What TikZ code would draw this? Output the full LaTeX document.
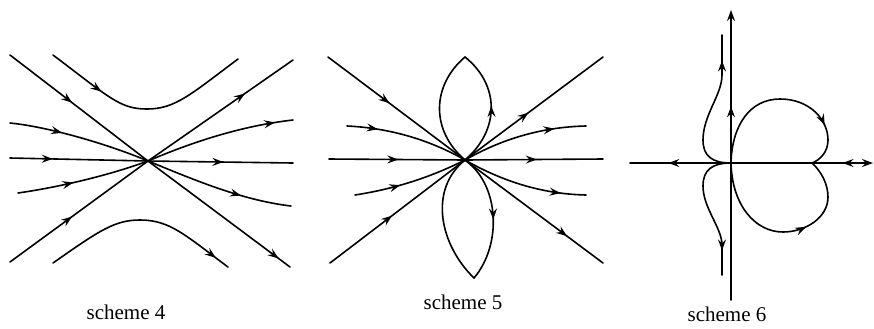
\documentclass[tikz,border=0pt]{standalone}
\usepackage{fontspec}
\setmainfont{Liberation Serif}
\usetikzlibrary{arrows.meta,decorations.markings}
\tikzset{
  myarr/.tip={Stealth[length=5.5pt,width=4pt,inset=2pt]},
  ln/.style={line width=0.8pt,line cap=round,line join=round},
  ma/.style={postaction={decorate,decoration={markings,mark=at position #1 with {\arrow{myarr}}}}},
  mar/.style={postaction={decorate,decoration={markings,mark=at position #1 with {\arrowreversed{myarr}}}}},
  lab/.style={font=\fontsize{10.5}{12}\selectfont,inner sep=0pt}
}
\begin{document}
\begin{tikzpicture}[x=0.5pt,y=-0.5pt]
\path[use as bounding box] (0,0) rectangle (874,328);
% ---------- scheme 4 ----------
\coordinate (C4) at (148,161);
\draw[ln,ma=0.45] (10,55) -- (C4);
\draw[ln,ma=0.92] (C4) -- (290,267);
\draw[ln,ma=0.45] (10,262) -- (C4);
\draw[ln,ma=0.67] (C4) -- (293,60);
\draw[ln,ma=0.31] (10,158) -- (C4);
\draw[ln,ma=0.52] (C4) -- (293,163);
\draw[ln,ma=0.37] (10,123) .. controls (50,127) and (110,145) .. (C4);
\draw[ln,ma=0.42] (18,193) .. controls (60,187) and (110,175) .. (C4);
\draw[ln,ma=0.88] (C4) .. controls (190,143) and (240,126) .. (293,120);
\draw[ln,ma=0.66] (C4) .. controls (190,178) and (240,200) .. (291,206);
\draw[ln,ma=0.55] (53,55) .. controls (110,98) and (120,109) .. (147,109);
\draw[ln] (147,109) .. controls (175,109) and (190,95) .. (238,59);
\draw[ln] (53,263) .. controls (100,230) and (115,220) .. (140,220);
\draw[ln,ma=0.85] (140,220) .. controls (170,220) and (185,235) .. (228,267);
\node[lab] (s4) at (126,312) {scheme 4};
% ---------- scheme 5 ----------
\coordinate (C5) at (465,160);
\draw[ln,ma=0.45] (328,57) -- (C5);
\draw[ln,ma=0.46] (330,263) -- (C5);
\draw[ln,ma=0.46] (C5) -- (603,57);
\draw[ln,ma=0.74] (C5) -- (603,263);
\draw[ln,ma=0.51] (329,159) -- (C5);
\draw[ln,ma=0.52] (C5) -- (603,159);
\draw[ln,ma=0.25] (347,126) .. controls (390,128) and (430,140) .. (C5);
\draw[ln,ma=0.4] (355,195) .. controls (400,188) and (435,175) .. (C5);
\draw[ln,ma=0.75] (C5) .. controls (500,140) and (540,127) .. (586,126);
\draw[ln,ma=0.8] (C5) .. controls (500,180) and (540,194) .. (586,195);
\draw[ln,ma=0.52] (C5) .. controls (500,130) and (500,85) .. (465,57);
\draw[ln] (465,57) .. controls (432,85) and (430,130) .. (C5);
\draw[ln,ma=0.52] (C5) .. controls (500,185) and (502,245) .. (474,278);
\draw[ln] (474,278) .. controls (440,245) and (428,190) .. (C5);
\node[lab] (s5) at (463,302) {scheme 5};
% ---------- scheme 6 ----------
\coordinate (O) at (731,163);
\coordinate (P) at (812,163);
\draw[ln] (731,300) -- (O);
\draw[ln,ma=0.37,-{myarr}] (O) -- (731,10);
\draw[ln,ma=0.62] (O) -- (630,163);
\draw[ln] (O) -- (P);
\draw[ln,mar=0.5,-{myarr}] (P) -- (873,163);
% left curves
\draw[ln] (O) .. controls (712,163) and (703,156) .. (703,140) .. controls (703,115) and (722,95) .. (722,75);
\draw[ln,ma=0.36] (722,75) -- (722,35);
\draw[ln] (O) .. controls (712,163) and (703,170) .. (703,186) .. controls (703,208) and (722,228) .. (722,245);
\draw[ln,ma=0.18] (722,245) -- (722,275);
% right loops
\draw[ln] (O) .. controls (732,125) and (750,99) .. (780,99);
\draw[ln,ma=0.78] (780,99) .. controls (810,99) and (828,120) .. (828,140);
\draw[ln] (828,140) .. controls (828,152) and (820,160) .. (P);
\draw[ln] (O) .. controls (732,205) and (755,232) .. (783,232);
\draw[ln,ma=0.38] (783,232) .. controls (805,232) and (828,218) .. (828,197);
\draw[ln] (828,197) .. controls (828,185) and (822,172) .. (P);
\node[lab] (s6) at (727,314) {scheme 6};
\end{tikzpicture}
\end{document}
